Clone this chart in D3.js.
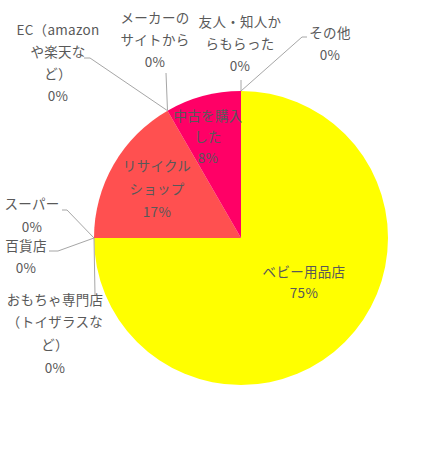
<!DOCTYPE html>
<html><head><meta charset="utf-8">
<script src="https://cdn.jsdelivr.net/npm/d3@7"></script>
<style>
html,body{margin:0;padding:0;background:#fff;}
svg{display:block;}
text{font-family:"Noto Sans CJK JP","Noto Sans",sans-serif;font-size:13.5px;fill:#595959;letter-spacing:0.3px;}
</style></head>
<body>
<svg id="chart" width="445" height="453"></svg>
<script>
// ---- data ----
const categories = ["ベビー用品店","おもちゃ専門店（トイザラスなど）","百貨店","スーパー","リサイクルショップ","EC（amazonや楽天など）","メーカーのサイトから","中古を購入した","友人・知人からもらった","その他"];
const values = [9, 0, 0, 0, 2, 0, 0, 1, 0, 0];
const labelLines = [
  ["ベビー用品店"],
  ["おもちゃ専門店","（トイザラスな","ど）"],
  ["百貨店"],
  ["スーパー"],
  ["リサイクル","ショップ"],
  ["EC（amazon","や楽天な","ど）"],
  ["メーカーの","サイトから"],
  ["中古を購入","した"],
  ["友人・知人か","らもらった"],
  ["その他"]
];
const colors = ["#FFFF00","#FF0066","#FF0066","#FF5050","#FF5050","#FF0066","#FF0066","#FF0066","#FF0066","#FF0066"];

// ---- layout ----
const cx = 241, cy = 238, R = 147;
// label block: center x, first line center y, line spacing; leader: elbow + end points (null = none)
const layout = [
  {x:304, y:272, dy:21.5, leader:null},
  {x:55,  y:300, dy:22.7, leader:[[95,295]]},
  {x:26,  y:246, dy:22, leader:[[58,251],[49,251]]},
  {x:32,  y:204, dy:23, leader:[[67,210],[62,210]]},
  {x:157, y:166, dy:23, leader:null},
  {x:58,  y:30,  dy:22.3, leader:[[90,58],[84,58]]},
  {x:155, y:18,  dy:22, leader:[[166,73]]},
  {x:208, y:116, dy:21, leader:null},
  {x:240, y:22,  dy:22, leader:[[241,80]]},
  {x:330, y:33,  dy:22, leader:[[302,37],[307,37]]}
];

const svg = d3.select("#chart");
const g = svg.append("g").attr("transform",`translate(${cx},${cy})`);
const total = d3.sum(values);
const pie = d3.pie().sort(null).value(d=>d)(values);
const arc = d3.arc().innerRadius(0).outerRadius(R);

g.selectAll("path.slice").data(pie.filter(d=>d.value>0)).enter().append("path")
  .attr("class","slice")
  .attr("d",arc)
  .attr("fill",d=>colors[d.index]);

// leader lines
pie.forEach((d,i)=>{
  const L = layout[i];
  if(!L.leader) return;
  const a = d.startAngle + (d.endAngle-d.startAngle)/2;
  const p0 = [cx + R*Math.sin(a), cy - R*Math.cos(a)];
  const pts = [p0].concat(L.leader);
  svg.append("path")
    .attr("d", d3.line()(pts))
    .attr("fill","none")
    .attr("stroke","#A6A6A6")
    .attr("stroke-width",1);
});

// labels
const fmt = v => Math.round(v/total*100) + "%";
pie.forEach((d,i)=>{
  const L = layout[i];
  const lines = labelLines[i].concat([fmt(d.value)]);
  const t = svg.append("text").attr("text-anchor","middle");
  lines.forEach((s,k)=>{
    t.append("tspan").attr("x",L.x).attr("y",L.y + k*L.dy + 4.5).text(s);
  });
});
</script>
</body></html>
